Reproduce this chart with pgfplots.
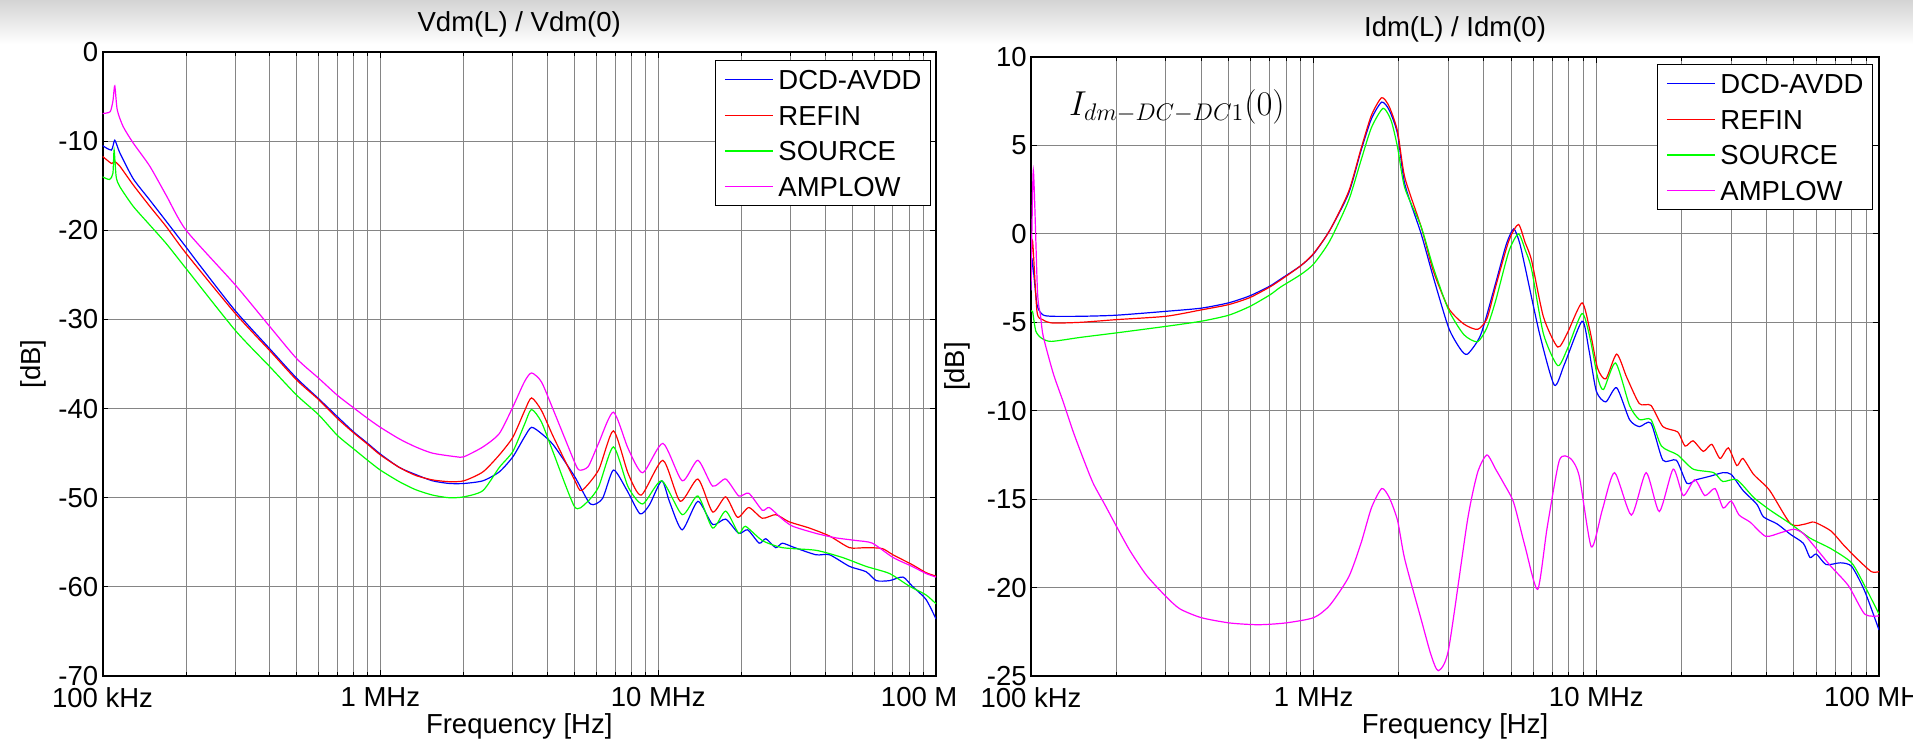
\documentclass[border=0pt]{standalone}
\usepackage{pgfplots}
\pgfplotsset{compat=1.18}
\usepackage{fontspec}
\setmainfont{Liberation Sans}
\definecolor{mblue}{rgb}{0,0,1}
\definecolor{mred}{rgb}{1,0,0}
\definecolor{mgreen}{rgb}{0,1,0}
\definecolor{mmag}{rgb}{1,0,1}
\newcommand{\fs}{\fontsize{13.75}{16}\selectfont}
\pgfplotsset{legend image code/.code={\draw[#1] (0pt,0pt) -- (24pt,0pt);}}
\pgfplotsset{every axis/.append style={
    scale only axis,
    xmin=1e5, xmax=1e8,
    xtick={1e5,1e6,1e7,1e8},
    xticklabels={100 kHz,1 MHz,10 MHz,100 MHz},
    minor xtick={2e5,3e5,4e5,5e5,6e5,7e5,8e5,9e5,2e6,3e6,4e6,5e6,6e6,7e6,8e6,9e6,2e7,3e7,4e7,5e7,6e7,7e7,8e7,9e7},
    xmajorgrids, xminorgrids, ymajorgrids,
    major grid style={black!48, line width=0.55pt},
    minor grid style={black!48, line width=0.5pt},
    axis line style={black, line width=1pt},
    tick align=inside,
    major tick length=3pt, minor tick length=2pt,
    tick style={black, line width=0.5pt},
    /pgf/number format/assume math mode=true,
    tick label style={font=\fs},
    yticklabel style={inner sep=0pt, xshift=-2pt},
    xticklabel style={inner sep=0pt, yshift=-5.5pt},
    label style={font=\fs},
    title style={font=\fs, at={(axis description cs:0.5,1)}, anchor=base, yshift=4.5pt},
    xlabel style={at={(axis description cs:0.5,0)}, anchor=base, yshift=-28.5pt},
    legend style={font=\fs, draw=black, line width=0.5pt, fill=white,
      inner xsep=4.5pt, inner ysep=4.5pt,
      row sep=7.85pt, column sep=2.5pt,
      nodes={inner sep=0pt, text height=10pt, text depth=0pt},
      legend cell align=left},
  },
  every axis plot/.append style={line width=0.6pt, smooth, tension=0.4},
}
\begin{document}
\begin{tikzpicture}
\shade[top color=black!17, bottom color=white] (0,0) rectangle (956.5pt,-22pt);
\begin{scope}
\clip (0,0) rectangle (477.5pt,-370.5pt);
\begin{axis}[xmode=log,
  at={(51.25pt,-338pt)}, anchor=south west,
  width=416.75pt, height=312pt,
  ymin=-70, ymax=0, ytick={-70,-60,-50,-40,-30,-20,-10,0},
  title={Vdm(L) / Vdm(0)},
  xlabel={Frequency [Hz]}, ylabel={[dB]},
  ylabel style={at={(axis description cs:-0.0834,0.5)}, anchor=center},
  legend style={at={(axis description cs:1,1)}, anchor=north east, xshift=-2.5pt, yshift=-4pt},
]
\addplot[mblue] coordinates {
(1e5,-10.5) (1.077e5,-11.0) (1.107e5,-9.9) (1.154e5,-11.3) (1.289e5,-14.2) (1.479e5,-16.6) (1.697e5,-19.0) (2e5,-21.9) (2.236e5,-23.9) (3e5,-29.0) (4e5,-33.3) (5e5,-36.6) (6e5,-38.9) (7e5,-40.9) (8e5,-42.6) (9e5,-43.9) (1e6,-45.1) (1.17e6,-46.6) (1.34e6,-47.4) (1.54e6,-48.1) (1.77e6,-48.4) (2e6,-48.4) (2.34e6,-48.1) (2.68e6,-47.1) (3e6,-45.4) (3.3e6,-43.2) (3.5e6,-42.1) (3.8e6,-42.8) (4.2e6,-44.1) (5e6,-47.6) (5.7e6,-50.7) (6.3e6,-50.1) (6.9e6,-46.9) (7.7e6,-49.1) (8.6e6,-51.8) (9.3e6,-50.8) (10.3e6,-48.1) (11e6,-50.5) (12.2e6,-53.6) (13.9e6,-50.4) (15.7e6,-53.0) (17.5e6,-52.4) (19.5e6,-54.0) (21e6,-53.6) (23.1e6,-55.1) (24.4e6,-54.6) (26.5e6,-55.6) (28e6,-55.1) (31e6,-55.6) (37e6,-56.4) (41.4e6,-56.4) (48.8e6,-57.7) (56e6,-58.3) (61e6,-59.3) (68e6,-59.3) (76e6,-58.9) (82e6,-59.9) (92e6,-61.4) (1e8,-63.6)
};
\addplot[mred] coordinates {
(1e5,-11.7) (1.077e5,-12.5) (1.107e5,-12.3) (1.154e5,-12.8) (1.289e5,-14.9) (1.479e5,-17.3) (1.697e5,-19.6) (2e5,-22.6) (3e5,-29.3) (4e5,-33.5) (5e5,-36.8) (6e5,-39.0) (7e5,-41.1) (8e5,-42.7) (9e5,-44.0) (1e6,-45.2) (1.17e6,-46.6) (1.34e6,-47.5) (1.54e6,-48.0) (1.77e6,-48.2) (2e6,-48.1) (2.34e6,-47.1) (2.68e6,-45.2) (3e6,-43.2) (3.3e6,-40.3) (3.5e6,-38.8) (3.8e6,-40.2) (4.2e6,-43.2) (5e6,-48.0) (5.3e6,-49.2) (6.1e6,-46.9) (6.9e6,-42.5) (7.8e6,-47.3) (8.7e6,-49.7) (10.4e6,-45.8) (12e6,-50.4) (13.9e6,-47.9) (15.7e6,-51.6) (17.5e6,-49.9) (19.3e6,-52.2) (21.2e6,-51.1) (23.7e6,-52.3) (26.5e6,-51.9) (29.6e6,-52.7) (35e6,-53.4) (41.4e6,-54.3) (48.8e6,-55.6) (56e6,-55.6) (64e6,-55.7) (70e6,-56.4) (82e6,-57.5) (92e6,-58.4) (1e8,-58.8)
};
\addplot[mgreen] coordinates {
(1e5,-14.0) (1.06e5,-14.3) (1.09e5,-13.6) (1.101e5,-11.0) (1.12e5,-14.0) (1.154e5,-15.1) (1.289e5,-17.3) (1.479e5,-19.4) (1.697e5,-21.5) (2e5,-24.3) (3e5,-31.2) (4e5,-35.3) (5e5,-38.5) (6e5,-40.7) (7e5,-43.0) (8e5,-44.5) (9e5,-45.8) (1e6,-46.9) (1.17e6,-48.2) (1.34e6,-49.1) (1.54e6,-49.7) (1.77e6,-50.0) (2e6,-49.9) (2.34e6,-49.2) (2.68e6,-46.6) (3e6,-44.8) (3.3e6,-41.8) (3.5e6,-40.1) (3.8e6,-41.5) (4.2e6,-45.0) (5e6,-51.0) (5.5e6,-50.6) (6.1e6,-48.8) (6.9e6,-44.3) (7.8e6,-48.8) (8.8e6,-50.7) (10.3e6,-48.1) (12.2e6,-51.9) (13.9e6,-49.8) (15.7e6,-53.4) (17.5e6,-51.5) (19.5e6,-54.0) (20.6e6,-53.2) (23.7e6,-54.8) (28e6,-55.6) (37e6,-55.9) (46e6,-56.7) (56e6,-57.7) (68e6,-58.5) (80e6,-59.9) (92e6,-60.9) (1e8,-61.9)
};
\addplot[mmag] coordinates {
(1e5,-6.9) (1.065e5,-6.7) (1.09e5,-5.5) (1.107e5,-3.8) (1.13e5,-6.5) (1.186e5,-8.35) (1.289e5,-10.2) (1.479e5,-12.8) (1.697e5,-16.1) (2e5,-20.0) (3e5,-26.1) (4e5,-30.8) (5e5,-34.4) (6e5,-36.6) (7e5,-38.5) (8e5,-39.9) (9e5,-41.1) (1e6,-42.1) (1.17e6,-43.4) (1.34e6,-44.3) (1.54e6,-45.0) (1.87e6,-45.4) (2e6,-45.4) (2.34e6,-44.3) (2.68e6,-42.8) (3e6,-39.8) (3.3e6,-37.0) (3.5e6,-36.0) (3.8e6,-37.0) (4.2e6,-40.2) (5e6,-46.0) (5.2e6,-46.9) (5.6e6,-46.5) (6.1e6,-43.9) (6.9e6,-40.4) (7.8e6,-44.5) (8.8e6,-47.2) (10.4e6,-43.9) (12.2e6,-48.1) (13.9e6,-45.8) (15.7e6,-48.7) (17.5e6,-47.9) (19.5e6,-49.8) (21.2e6,-49.5) (23.7e6,-51.4) (25.1e6,-51.1) (28e6,-52.4) (30.5e6,-53.2) (37e6,-54.0) (43.6e6,-54.5) (51.6e6,-54.8) (59e6,-55.1) (70e6,-56.7) (82e6,-57.7) (92e6,-58.5) (1e8,-58.9)
};
\legend{DCD-AVDD,REFIN,SOURCE,AMPLOW}
\end{axis}
\end{scope}
\begin{axis}[xmode=log,
  at={(515.5pt,-338pt)}, anchor=south west,
  width=424pt, height=309.5pt,
  ymin=-25, ymax=10, ytick={-25,-20,-15,-10,-5,0,5,10},
  title={Idm(L) / Idm(0)},
  xlabel={Frequency [Hz]}, ylabel={[dB]},
  ylabel style={at={(axis description cs:-0.0873,0.5)}, anchor=center},
  legend style={at={(axis description cs:1,1)}, anchor=north east, xshift=-3pt, yshift=-3.5pt},
]
\addplot[mblue] coordinates {
(1e5,-3.2) (1.01e5,-1.5) (1.05e5,-4.0) (1.1e5,-4.57) (1.19e5,-4.66) (1.5e5,-4.66) (2e5,-4.6) (3e5,-4.38) (4e5,-4.2) (5e5,-3.9) (5.95e5,-3.5) (7e5,-2.95) (7.65e5,-2.55) (9e5,-1.8) (1e6,-1.13) (1.14e6,0.2) (1.33e6,2.3) (1.47e6,4.7) (1.6e6,6.5) (1.74e6,7.45) (1.85e6,7.0) (1.98e6,5.66) (2.1e6,2.83) (2.4e6,0.0) (2.65e6,-2.45) (3.0e6,-5.3) (3.3e6,-6.5) (3.5e6,-6.8) (3.9e6,-5.7) (4.4e6,-2.8) (4.8e6,-0.6) (5.1e6,0.28) (5.35e6,-0.5) (5.6e6,-1.9) (6.3e6,-5.66) (7.1e6,-8.55) (7.7e6,-7.4) (8.9e6,-4.94) (9.4e6,-6.5) (10e6,-8.9) (10.8e6,-9.5) (11.8e6,-8.7) (13.1e6,-10.5) (14.2e6,-10.9) (15.6e6,-10.7) (17.2e6,-12.8) (19.2e6,-12.8) (20.9e6,-14.1) (22.6e6,-13.9) (25.3e6,-13.7) (28.1e6,-13.5) (30e6,-13.6) (33e6,-14.5) (37e6,-15.3) (39e6,-16.0) (43.6e6,-16.4) (48.7e6,-17.0) (54e6,-17.5) (57e6,-18.3) (60e6,-18.1) (65e6,-18.7) (73e6,-18.6) (80e6,-18.8) (89e6,-20.2) (1e8,-22.4)
};
\addplot[mred] coordinates {
(1e5,-1.7) (1.013e5,-0.4) (1.05e5,-4.4) (1.1e5,-4.85) (1.19e5,-5.04) (1.5e5,-5.0) (2e5,-4.85) (3e5,-4.66) (4e5,-4.3) (5e5,-4.0) (5.95e5,-3.6) (7e5,-3.0) (7.65e5,-2.6) (9e5,-1.8) (1e6,-1.1) (1.14e6,0.2) (1.33e6,2.4) (1.47e6,4.8) (1.6e6,6.7) (1.74e6,7.7) (1.85e6,7.2) (1.98e6,5.8) (2.1e6,3.2) (2.4e6,0.4) (2.65e6,-2.1) (3.0e6,-4.2) (3.4e6,-5.1) (3.8e6,-5.4) (4.1e6,-4.8) (4.4e6,-3.0) (4.9e6,-0.4) (5.3e6,0.53) (5.6e6,-0.5) (5.9e6,-1.5) (6.5e6,-4.7) (7.3e6,-6.4) (7.9e6,-5.6) (8.9e6,-3.9) (9.5e6,-5.5) (10.1e6,-7.6) (10.8e6,-8.2) (11.8e6,-6.8) (12.8e6,-8.1) (14.2e6,-9.6) (15.6e6,-9.7) (17.2e6,-10.9) (19.4e6,-11.2) (20.6e6,-12.0) (22e6,-11.7) (23.9e6,-12.3) (25.6e6,-11.9) (27.4e6,-12.7) (29.3e6,-12.1) (31.4e6,-13.1) (33e6,-12.7) (36e6,-13.6) (41e6,-14.5) (48.7e6,-16.4) (55e6,-16.4) (59e6,-16.3) (67.6e6,-16.8) (75e6,-17.6) (84e6,-18.4) (94e6,-19.1) (1e8,-19.1)
};
\addplot[mgreen] coordinates {
(1e5,-4.4) (1.013e5,-4.4) (1.04e5,-5.5) (1.09e5,-5.9) (1.18e5,-6.08) (1.5e5,-5.85) (2e5,-5.6) (3e5,-5.23) (4e5,-4.94) (5e5,-4.6) (5.95e5,-4.1) (7e5,-3.45) (7.65e5,-3.0) (9e5,-2.3) (1e6,-1.7) (1.14e6,-0.4) (1.33e6,1.9) (1.47e6,4.15) (1.6e6,6.0) (1.76e6,7.1) (1.88e6,6.4) (1.98e6,4.9) (2.1e6,2.6) (2.4e6,0.4) (2.65e6,-1.9) (3.0e6,-4.3) (3.4e6,-5.7) (3.8e6,-6.1) (4.1e6,-5.3) (4.4e6,-3.8) (4.9e6,-1.0) (5.3e6,0.0) (5.6e6,-0.9) (5.9e6,-2.0) (6.5e6,-5.66) (7.3e6,-7.45) (7.9e6,-6.5) (8.9e6,-4.5) (9.5e6,-5.9) (10.1e6,-8.1) (10.6e6,-8.8) (11.7e6,-7.3) (13.1e6,-9.7) (14.2e6,-10.5) (15.6e6,-10.5) (17e6,-12.0) (19.4e6,-12.5) (22e6,-13.3) (26e6,-13.5) (28e6,-14.0) (31.4e6,-13.9) (36e6,-14.9) (41e6,-15.6) (48.7e6,-16.4) (57e6,-17.2) (67.6e6,-17.8) (80e6,-18.6) (89e6,-19.9) (1e8,-21.5)
};
\addplot[mmag] coordinates {
(1e5,-3.2) (1.019e5,3.6) (1.054e5,-3.25) (1.08e5,-4.6) (1.105e5,-5.8) (1.199e5,-7.9) (1.300e5,-9.5) (1.411e5,-11.2) (1.530e5,-12.7) (1.659e5,-14.1) (1.823e5,-15.3) (2e5,-16.5) (2.236e5,-17.9) (2.56e5,-19.3) (3e5,-20.5) (3.36e5,-21.2) (4e5,-21.7) (5.04e5,-22.0) (6.36e5,-22.1) (7.95e5,-22.0) (1e6,-21.7) (1.14e6,-21.0) (1.33e6,-19.4) (1.47e6,-17.5) (1.6e6,-15.5) (1.74e6,-14.4) (1.85e6,-14.9) (1.98e6,-16.2) (2.1e6,-18.4) (2.4e6,-21.8) (2.6e6,-23.8) (2.76e6,-24.7) (3.0e6,-23.5) (3.5e6,-16.2) (3.8e6,-13.5) (4.1e6,-12.5) (4.4e6,-13.3) (4.7e6,-14.1) (5.1e6,-15.2) (5.6e6,-17.7) (6.2e6,-20.1) (6.7e6,-16.6) (7.4e6,-12.8) (8.1e6,-12.7) (8.7e6,-13.7) (9.6e6,-17.7) (10.5e6,-15.6) (11.6e6,-13.5) (13.3e6,-15.9) (15.0e6,-13.5) (16.7e6,-15.7) (18.7e6,-13.3) (20.3e6,-14.8) (22.3e6,-13.9) (24.2e6,-14.8) (26.3e6,-14.4) (28.1e6,-15.5) (30e6,-15.1) (32e6,-15.9) (35e6,-16.3) (39.7e6,-17.1) (44.8e6,-16.9) (50e6,-16.7) (54e6,-16.95) (60e6,-17.8) (67.6e6,-18.8) (78e6,-19.9) (89e6,-21.5) (1e8,-21.6)
};
\legend{DCD-AVDD,REFIN,SOURCE,AMPLOW}
\node[anchor=base west, inner sep=0pt, font=\fontsize{16.5}{18}\selectfont] at (axis cs:1.36e5,6.72) {$I_{dm-DC-DC1}(0)$};
\end{axis}
\pgfresetboundingbox
\useasboundingbox (0,0) rectangle (956.5pt,-370.5pt);
\end{tikzpicture}
\end{document}
